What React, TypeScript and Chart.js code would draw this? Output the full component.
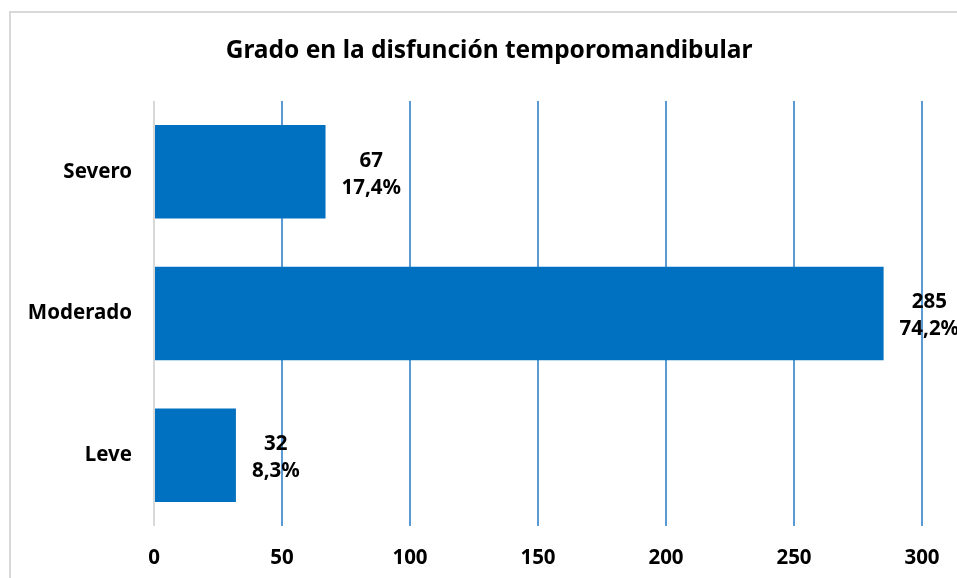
import React, { useEffect, useRef } from "react";
import { Chart, registerables } from "chart.js";

Chart.register(...registerables);

const categories = ["Severo", "Moderado", "Leve"];
const counts = [67, 285, 32];
const percents = ["17,4%", "74,2%", "8,3%"];
const xTicks = [0, 50, 100, 150, 200, 250, 300];
const titleText = "Grado en la disfunción temporomandibular";

const FONT = "'Noto Sans', sans-serif";

const frame = {
  id: "frame",
  beforeDraw(chart: any) {
    const ctx = chart.ctx;
    ctx.save();
    ctx.fillStyle = "#ffffff";
    ctx.fillRect(0, 0, chart.width, chart.height);
    ctx.strokeStyle = "#d9d9d9";
    ctx.lineWidth = 2;
    ctx.strokeRect(10, 12, chart.width + 20, chart.height + 20);
    ctx.font = `bold 24.5px ${FONT}`;
    ctx.fillStyle = "#000000";
    ctx.textAlign = "center";
    ctx.textBaseline = "middle";
    ctx.fillText(titleText, 489, 51);
    ctx.restore();
  },
};

const valueLabels = {
  id: "valueLabels",
  afterDatasetsDraw(chart: any) {
    const ctx = chart.ctx;
    const meta = chart.getDatasetMeta(0);
    ctx.save();
    ctx.font = `bold 20.5px ${FONT}`;
    ctx.fillStyle = "#000000";
    ctx.textAlign = "center";
    ctx.textBaseline = "middle";
    meta.data.forEach((bar: any, i: number) => {
      const l1 = String(counts[i]);
      const l2 = percents[i];
      const w = Math.max(ctx.measureText(l1).width, ctx.measureText(l2).width);
      const cx = bar.x + 16 + w / 2;
      ctx.fillText(l1, cx, bar.y - 11);
      ctx.fillText(l2, cx, bar.y + 16);
    });
    ctx.restore();
  },
};

export default function App() {
  const ref = useRef<HTMLCanvasElement | null>(null);
  useEffect(() => {
    document.body.style.margin = "0";
    const chart = new Chart(ref.current as HTMLCanvasElement, {
      type: "bar",
      data: {
        labels: categories,
        datasets: [
          {
            data: counts,
            backgroundColor: "#0070C0",
            barPercentage: 0.66,
            categoryPercentage: 1,
          },
        ],
      },
      options: {
        indexAxis: "y",
        animation: false,
        responsive: false,
        layout: { padding: { left: 0, right: 35, top: 101, bottom: 0 } },
        plugins: {
          legend: { display: false },
          tooltip: { enabled: false },
          title: { display: false },
        },
        scales: {
          x: {
            min: 0,
            max: 300,
            afterBuildTicks(scale: any) {
              scale.ticks = xTicks.map((v) => ({ value: v }));
            },
            afterFit(scale: any) {
              scale.height = 52;
              scale.paddingRight = 0;
              scale.paddingLeft = 0;
            },
            grid: {
              drawTicks: false,
              color: (c: any) => (c.tick && c.tick.value === 0 ? "#d9d9d9" : "#5B9BD5"),
              lineWidth: 2,
            },
            border: { display: false },
            ticks: {
              padding: 20,
              color: "#000000",
              font: { family: FONT, size: 20.5, weight: "bold" },
            },
          },
          y: {
            afterFit(scale: any) {
              scale.width = 154;
              scale.paddingTop = 0;
              scale.paddingBottom = 0;
            },
            grid: { display: false, drawTicks: false },
            border: { display: false },
            ticks: {
              padding: 22,
              color: "#000000",
              font: { family: FONT, size: 20.5, weight: "bold" },
            },
          },
        },
      },
      plugins: [frame, valueLabels],
    } as any);
    return () => chart.destroy();
  }, []);
  return <canvas ref={ref} width={957} height={578} style={{ display: "block" }} />;
}
